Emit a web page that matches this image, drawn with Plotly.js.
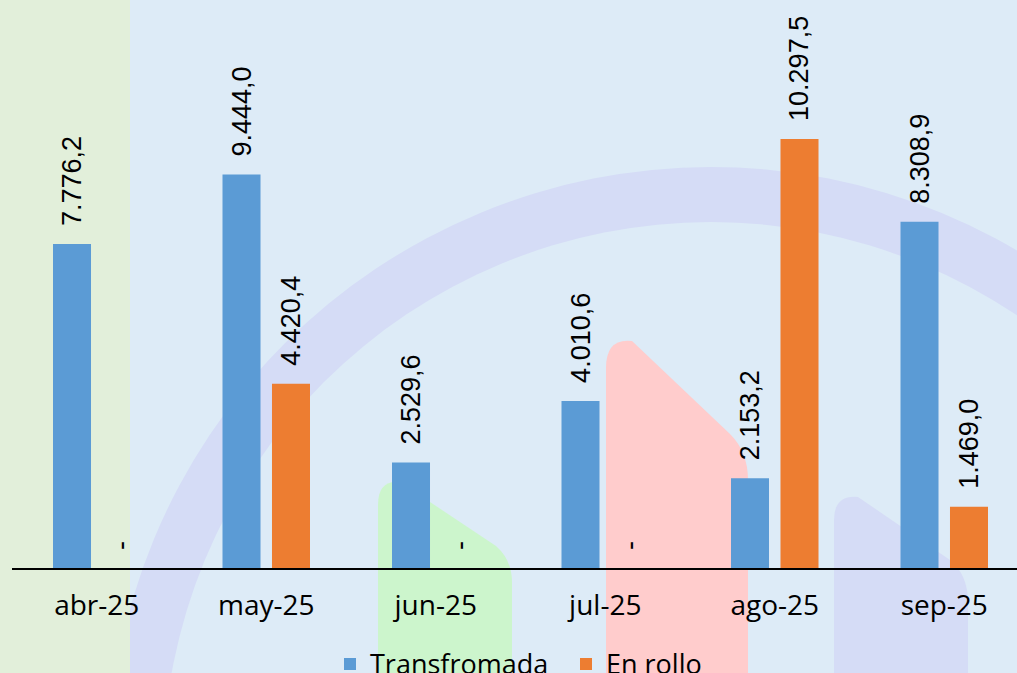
<!DOCTYPE html>
<html>
<head>
<meta charset="utf-8">
<script src="https://cdn.plot.ly/plotly-3.0.1.min.js"></script>
<style>html,body{margin:0;padding:0;background:#DDEBF7;}#chart{width:1017px;height:673px;}</style>
</head>
<body>
<div id="chart"></div>
<script>
// ---- data ----
const categories = ['abr-25', 'may-25', 'jun-25', 'jul-25', 'ago-25', 'sep-25'];
const transformada = [7776.2, 9444.0, 2529.6, 4010.6, 2153.2, 8308.9];
const enRollo = [0, 4420.4, 0, 0, 10297.5, 1469.0];
const seriesNames = ['Transfromada', 'En rollo'];

// number format: thousands ".", decimal ",", zero shown as "-"
function fmt(v) {
  if (v === 0) return '\u00a0\u00a0-';
  const parts = v.toFixed(1).split('.');
  const intPart = parts[0].replace(/\B(?=(\d{3})+(?!\d))/g, '.');
  return '\u00a0\u00a0' + intPart + ',' + parts[1];
}

const W = 1017, H = 673, ML = 12, MB = 105;
const plotW = W - ML, plotH = H - MB;
// convert pixel position to paper coords (decoration only)
function px(x) { return ((x - ML) / plotW).toFixed(5); }
function py(y) { return ((plotH - y) / plotH).toFixed(5); }
function P(x, y) { return px(x) + ',' + py(y); }

const labelFont = {family: 'Liberation Sans, Arial, sans-serif', size: 27, color: '#000000'};
const uiFont = 'Open Sans, Noto Sans, sans-serif';

const traces = [
  {
    type: 'bar', name: seriesNames[0], x: categories, y: transformada,
    text: transformada.map(fmt), textposition: 'outside', textangle: -90,
    textfont: labelFont, cliponaxis: false, constraintext: 'none',
    marker: {color: '#5B9BD5'}, hoverinfo: 'skip'
  },
  {
    type: 'bar', name: seriesNames[1], x: categories, y: enRollo,
    text: enRollo.map(fmt), textposition: 'outside', textangle: -90,
    textfont: labelFont, cliponaxis: false, constraintext: 'none',
    marker: {color: '#ED7D31'}, hoverinfo: 'skip'
  }
];

const bg = '#DDEBF7';
const lav = '#D5DCF6';
const shapes = [
  // ring
  {type: 'circle', xref: 'paper', yref: 'paper', layer: 'below',
   x0: px(711 - 603), x1: px(711 + 603), y0: py(770 + 603), y1: py(770 - 603),
   fillcolor: lav, line: {width: 0}},
  {type: 'circle', xref: 'paper', yref: 'paper', layer: 'below',
   x0: px(711 - 548), x1: px(711 + 548), y0: py(770 + 548), y1: py(770 - 548),
   fillcolor: bg, line: {width: 0}},
  // green strip left
  {type: 'rect', xref: 'paper', yref: 'paper', layer: 'below',
   x0: px(-2), x1: px(130), y0: py(680), y1: py(-5),
   fillcolor: '#E2EFDA', line: {width: 0}},
  // green shape
  {type: 'path', xref: 'paper', yref: 'paper', layer: 'below',
   path: 'M' + P(378, 680) + 'L' + P(378, 505) + 'Q' + P(378, 480) + ' ' + P(400, 482) +
         'L' + P(496, 546) + 'Q' + P(512, 560) + ' ' + P(512, 582) + 'L' + P(512, 680) + 'Z',
   fillcolor: '#CCF5CC', line: {width: 0}},
  // pink shape
  {type: 'path', xref: 'paper', yref: 'paper', layer: 'below',
   path: 'M' + P(606, 680) + 'L' + P(606, 368) + 'Q' + P(606, 338) + ' ' + P(632, 341) +
         'L' + P(730, 434) + 'Q' + P(748, 452) + ' ' + P(748, 480) + 'L' + P(748, 680) + 'Z',
   fillcolor: '#FFCCCC', line: {width: 0}},
  // blue shape
  {type: 'path', xref: 'paper', yref: 'paper', layer: 'below',
   path: 'M' + P(834, 680) + 'L' + P(834, 520) + 'Q' + P(834, 495) + ' ' + P(858, 497) +
         'L' + P(950, 560) + 'Q' + P(968, 575) + ' ' + P(968, 602) + 'L' + P(968, 680) + 'Z',
   fillcolor: lav, line: {width: 0}}
];

const layout = {
  width: W, height: H, autosize: false,
  margin: {l: ML, r: 0, t: 0, b: MB, pad: 0, autoexpand: false},
  paper_bgcolor: bg, plot_bgcolor: 'rgba(0,0,0,0)',
  barmode: 'group', bargap: 0.416, bargroupgap: 0.232,
  showlegend: true,
  legend: {orientation: 'h', x: px(330), xanchor: 'left', y: -0.1265, yanchor: 'top',
           entrywidth: 191, entrywidthmode: 'pixels',
           font: {family: uiFont, size: 27, color: '#000000'},
           bgcolor: 'rgba(0,0,0,0)', traceorder: 'normal'},
  xaxis: {type: 'category', range: [-0.5, -0.5 + plotW / 169.5], showline: true,
          linecolor: '#000000', linewidth: 2, ticks: '', showgrid: false, zeroline: false,
          tickfont: {family: uiFont, size: 28, color: '#000000'},
          ticklabelstandoff: 11, automargin: false, fixedrange: true},
  yaxis: {range: [0, plotH * 24], showgrid: false, zeroline: false, showticklabels: false,
          ticks: '', showline: false, automargin: false, fixedrange: true},
  shapes: shapes,
  hovermode: false
};

Plotly.newPlot('chart', traces, layout, {displayModeBar: false, staticPlot: true});
</script>
</body>
</html>
